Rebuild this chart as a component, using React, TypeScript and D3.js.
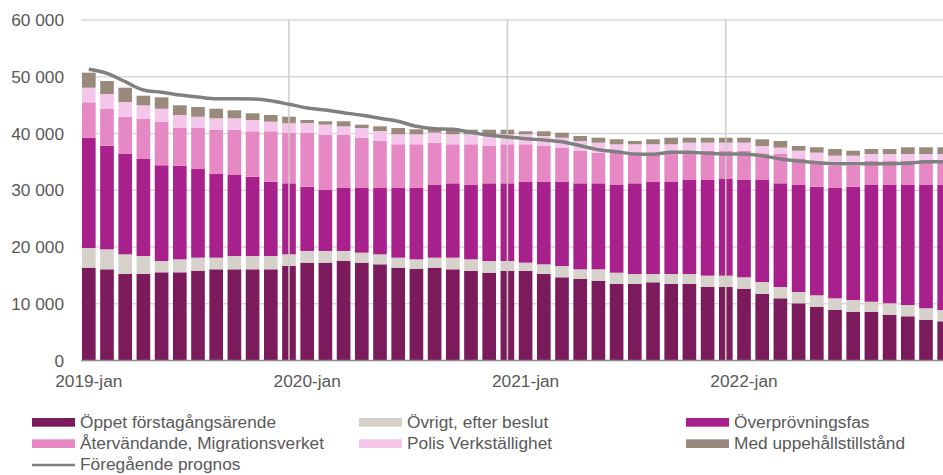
import { useRef, useEffect } from 'react';
import * as d3 from 'd3';

const WIDTH = 943;
const HEIGHT = 475;

const YEARS = [2019, 2020, 2021, 2022];
const MONTHS = ['jan', 'feb', 'mar', 'apr', 'maj', 'jun', 'jul', 'aug', 'sep', 'okt', 'nov', 'dec'];
const CATEGORIES = YEARS.flatMap((y) => MONTHS.map((m) => `${y}-${m}`));
const TICK_LABELS = ['2019-jan', '2020-jan', '2021-jan', '2022-jan'];
// vertical grid lines sit on the December bars
const VGRID = ['2019-dec', '2020-dec', '2021-dec'];
const Y_TICKS = [0, 10000, 20000, 30000, 40000, 50000, 60000];

const oppet = [16360, 16070, 15240, 15240, 15540, 15540, 15820, 16070, 16070, 16070, 16070, 16650, 17240, 17240, 17530, 17240, 16950, 16360, 16120, 16360, 16070, 15770, 15470, 15770, 15770, 15240, 14660, 14360, 14060, 13480, 13480, 13780, 13480, 13480, 12950, 12950, 12650, 11750, 10960, 10080, 9480, 8900, 8600, 8600, 8070, 7790, 7190, 6910];
const ovrigt = [3460, 3520, 3470, 3170, 1990, 2290, 2300, 2050, 2340, 2340, 2340, 2060, 2060, 2060, 1770, 1760, 1760, 1760, 1710, 1760, 2050, 2060, 2060, 1760, 1470, 1710, 1990, 1710, 2010, 1990, 1760, 1460, 1760, 1760, 2000, 2000, 2010, 2080, 1990, 1990, 2010, 2060, 2060, 1760, 2010, 1990, 2010, 1990];
const overprovning = [19440, 18260, 17680, 17100, 16870, 16500, 15620, 14800, 14280, 13980, 13100, 12510, 11330, 10740, 11100, 11400, 11690, 12280, 12570, 12810, 13100, 13100, 13690, 13690, 14210, 14500, 14800, 15150, 15150, 15460, 15980, 16210, 16210, 16570, 16860, 17030, 17150, 17980, 18270, 18860, 19140, 19440, 19970, 20570, 20850, 21150, 21730, 22030];
const atervandande = [6240, 6470, 6570, 7100, 7630, 6640, 7230, 7750, 7980, 8000, 8880, 8870, 9460, 9750, 9390, 8860, 8280, 7700, 7700, 7450, 6880, 7170, 6580, 6880, 6650, 6350, 6060, 5700, 5400, 5670, 5280, 5150, 5350, 4980, 5110, 4940, 5110, 4700, 5170, 4700, 4290, 3930, 3700, 4220, 4220, 4220, 4400, 4220];
const polis = [2570, 2640, 2590, 2360, 2340, 2290, 1990, 2010, 2010, 1990, 1690, 1710, 1760, 1770, 1480, 1710, 1760, 1760, 1760, 1760, 1760, 1760, 1760, 1760, 1760, 1760, 1750, 1760, 1760, 1500, 1600, 1500, 1300, 1590, 1460, 1460, 1460, 1290, 1120, 1340, 1700, 1760, 1760, 1240, 1240, 1240, 1060, 1240];
const uppehall = [2650, 2290, 2520, 1690, 2010, 1710, 1710, 1690, 1410, 1180, 1180, 1160, 530, 590, 880, 590, 830, 1110, 880, 600, 810, 810, 1110, 810, 530, 830, 880, 880, 880, 880, 580, 880, 1160, 880, 880, 880, 880, 1180, 1170, 830, 950, 1180, 880, 880, 880, 1180, 1180, 1180];
const foregaende = [51310, 50600, 49130, 47670, 47260, 46780, 46430, 46130, 46130, 46080, 45780, 45150, 44500, 44140, 43670, 43210, 42680, 42150, 41270, 40850, 40740, 40210, 39680, 39380, 39080, 38850, 38550, 37850, 37150, 36790, 36390, 36330, 36680, 36680, 36510, 36390, 36390, 36090, 35510, 35150, 34860, 34680, 34680, 34680, 34680, 34740, 35040, 35000];

const SERIES = [
  { key: 'oppet', name: 'Öppet förstagångsärende', color: '#7b1b5c', values: oppet },
  { key: 'ovrigt', name: 'Övrigt, efter beslut', color: '#d6d1cb', values: ovrigt },
  { key: 'overprovning', name: 'Överprövningsfas', color: '#a8208c', values: overprovning },
  { key: 'atervandande', name: 'Återvändande, Migrationsverket', color: '#e688c4', values: atervandande },
  { key: 'polis', name: 'Polis Verkställighet', color: '#f4c7ea', values: polis },
  { key: 'uppehall', name: 'Med uppehållstillstånd', color: '#9a8a7c', values: uppehall },
];
const LINE_NAME = 'Föregående prognos';
const LINE_COLOR = '#808080';
const TEXT_COLOR = '#595959';
const FONT = '"Liberation Sans", Arial, sans-serif';

type Row = { cat: string; [k: string]: number | string };

export default function App() {
  const svgRef = useRef<SVGSVGElement>(null);

  useEffect(() => {
    if (!svgRef.current) return;
    const svg = d3.select(svgRef.current);
    svg.selectAll('*').remove();

    const rows: Row[] = CATEGORIES.map((cat, i) => {
      const r: Row = { cat };
      SERIES.forEach((s) => (r[s.key] = s.values[i]));
      return r;
    });

    // ── Scales ──────────────────────────────────────────────────────────────
    const step = 18.2;
    const x0 = 79.7;
    const x = d3
      .scaleBand<string>()
      .domain(CATEGORIES)
      .range([x0, x0 + step * CATEGORIES.length])
      .paddingInner(0.25)
      .paddingOuter(0.125);
    const bw = x.bandwidth();
    const cx = (c: string) => x(c)! + bw / 2;

    const y = d3.scaleLinear().domain([0, 60000]).range([360.5, 20]);
    const plotLeft = 81;

    // ── Horizontal grid ─────────────────────────────────────────────────────
    svg
      .append('g')
      .selectAll('line')
      .data(Y_TICKS.slice(1))
      .join('line')
      .attr('x1', plotLeft)
      .attr('x2', WIDTH)
      .attr('y1', (d) => y(d))
      .attr('y2', (d) => y(d))
      .attr('stroke', '#d9d9d9')
      .attr('stroke-width', 1.3);

    // ── Stacked bars ────────────────────────────────────────────────────────
    const stack = d3.stack<Row>().keys(SERIES.map((s) => s.key)).value((d, k) => d[k] as number);
    const layers = stack(rows);

    svg
      .append('g')
      .selectAll('g')
      .data(layers)
      .join('g')
      .attr('fill', (_, i) => SERIES[i].color)
      .selectAll('rect')
      .data((d) => d)
      .join('rect')
      .attr('x', (d) => x(d.data.cat)!)
      .attr('width', bw)
      .attr('y', (d) => y(d[1]))
      .attr('height', (d) => y(d[0]) - y(d[1]));

    // ── Vertical grid (drawn over the bars) ─────────────────────────────────
    svg
      .append('g')
      .selectAll('line')
      .data(VGRID)
      .join('line')
      .attr('x1', (d) => cx(d))
      .attr('x2', (d) => cx(d))
      .attr('y1', y(60000))
      .attr('y2', y(0))
      .attr('stroke', '#d0cbc6')
      .attr('stroke-width', 1.5);

    // ── X axis line + labels ────────────────────────────────────────────────
    svg
      .append('line')
      .attr('x1', plotLeft)
      .attr('x2', WIDTH)
      .attr('y1', y(0))
      .attr('y2', y(0))
      .attr('stroke', '#8c8c8c')
      .attr('stroke-width', 1.3);

    svg
      .append('g')
      .selectAll('text')
      .data(TICK_LABELS)
      .join('text')
      .attr('x', (d) => cx(d))
      .attr('y', 387)
      .attr('text-anchor', 'middle')
      .attr('font-family', FONT)
      .attr('font-size', '17.3px')
      .attr('fill', TEXT_COLOR)
      .text((d) => d);

    // ── Y axis labels ───────────────────────────────────────────────────────
    svg
      .append('g')
      .selectAll('text')
      .data(Y_TICKS)
      .join('text')
      .attr('x', 64)
      .attr('y', (d) => y(d))
      .attr('dy', '0.36em')
      .attr('text-anchor', 'end')
      .attr('font-family', FONT)
      .attr('font-size', '17.3px')
      .attr('fill', TEXT_COLOR)
      .text((d) => d3.format(',')(d).replace(/,/g, ' '));

    // ── Previous forecast line ──────────────────────────────────────────────
    const line = d3
      .line<number>()
      .x((_, i) => cx(CATEGORIES[i]))
      .y((d) => y(d))
      .curve(d3.curveMonotoneX);

    svg
      .append('path')
      .datum(foregaende)
      .attr('fill', 'none')
      .attr('stroke', LINE_COLOR)
      .attr('stroke-width', 3.5)
      .attr('stroke-linejoin', 'round')
      .attr('d', line);

    // ── Legend ──────────────────────────────────────────────────────────────
    const colX = [32, 359, 686];
    const rowY = [427.5, 448.8, 470.1];
    const legend = svg.append('g').attr('font-family', FONT).attr('font-size', '17.3px').attr('fill', TEXT_COLOR);

    SERIES.forEach((s, i) => {
      const lx = colX[i % 3];
      const ly = rowY[Math.floor(i / 3)];
      legend
        .append('rect')
        .attr('x', lx)
        .attr('y', ly - 9.5)
        .attr('width', 43)
        .attr('height', 8.7)
        .attr('fill', s.color);
      legend
        .append('text')
        .attr('x', lx + 48)
        .attr('y', ly)
        .text(s.name);
    });

    const ly = rowY[2];
    legend
      .append('line')
      .attr('x1', colX[0])
      .attr('x2', colX[0] + 43)
      .attr('y1', ly - 5)
      .attr('y2', ly - 5)
      .attr('stroke', LINE_COLOR)
      .attr('stroke-width', 2.5);
    legend
      .append('text')
      .attr('x', colX[0] + 48)
      .attr('y', ly)
      .text(LINE_NAME);
  }, []);

  return (
    <svg
      ref={svgRef}
      width={WIDTH}
      height={HEIGHT}
      style={{ position: 'absolute', left: 0, top: 0, background: '#fff', overflow: 'hidden' }}
    />
  );
}
